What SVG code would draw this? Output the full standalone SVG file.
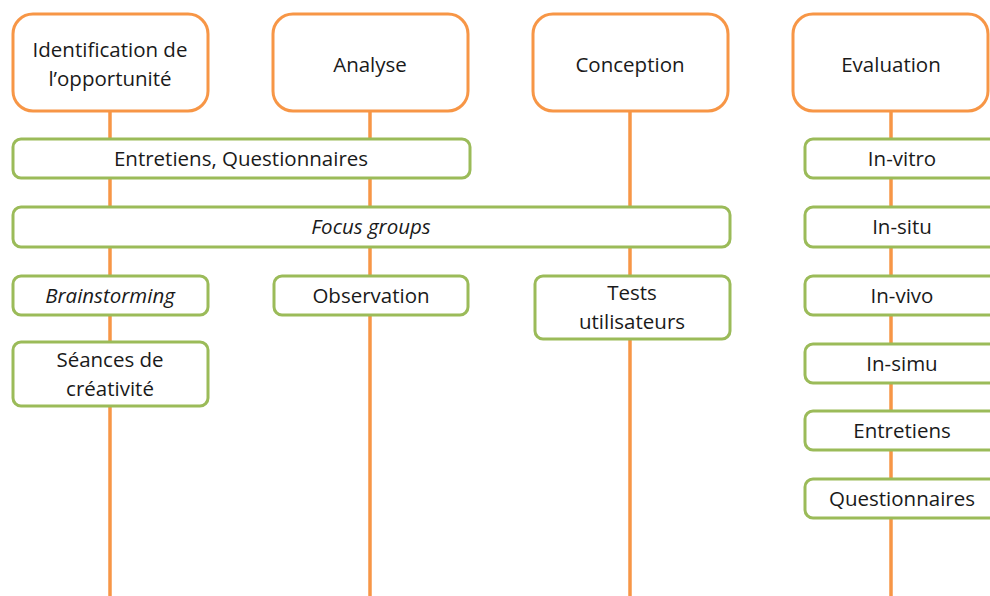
<svg xmlns="http://www.w3.org/2000/svg" width="990" height="596" viewBox="0 0 990 596">
<style>
.phase{fill:#fff;stroke:#F79646;stroke-width:3}
.tool{fill:#fff;stroke:#9BBB59;stroke-width:3}
.line{stroke:#F79646;stroke-width:3.5;fill:none}
text{font-family:"Open Sans","Liberation Sans",Arial,sans-serif;font-size:20.5px;fill:#1a1a1a;text-anchor:middle}
.it{font-style:italic}
</style>
<rect width="990" height="596" fill="#fff"/>
<g id="connectors">
<line class="line" x1="110" y1="111" x2="110" y2="596"/>
<line class="line" x1="370" y1="111" x2="370" y2="596"/>
<line class="line" x1="630" y1="111" x2="630" y2="596"/>
<line class="line" x1="891" y1="111" x2="891" y2="596"/>
</g>
<g id="phase-identification"><rect class="phase" x="13" y="14" width="195" height="97" rx="20"/><text x="110" y="57">Identification de</text><text x="110" y="86">l’opportunité</text></g>
<g id="phase-analyse"><rect class="phase" x="273" y="14" width="195" height="97" rx="20"/><text x="370" y="72">Analyse</text></g>
<g id="phase-conception"><rect class="phase" x="533" y="14" width="195" height="97" rx="20"/><text x="630" y="72">Conception</text></g>
<g id="phase-evaluation"><rect class="phase" x="793" y="14" width="195" height="97" rx="20"/><text x="891" y="72">Evaluation</text></g>
<g id="tool-entretiens-questionnaires"><rect class="tool" x="13" y="139" width="457" height="39" rx="8"/><text x="241" y="166">Entretiens, Questionnaires</text></g>
<g id="tool-focus-groups"><rect class="tool" x="13" y="207" width="717" height="40" rx="8"/><text class="it" x="371" y="234">Focus groups</text></g>
<g id="tool-brainstorming"><rect class="tool" x="13" y="276" width="195" height="39" rx="8"/><text class="it" x="110" y="303">Brainstorming</text></g>
<g id="tool-seances"><rect class="tool" x="13" y="342" width="195" height="64" rx="8"/><text x="110" y="367">Séances de</text><text x="110" y="396">créativité</text></g>
<g id="tool-observation"><rect class="tool" x="274" y="276" width="194" height="39" rx="8"/><text x="371" y="303">Observation</text></g>
<g id="tool-tests"><rect class="tool" x="535" y="276" width="195" height="63" rx="8"/><text x="632" y="300">Tests</text><text x="632" y="329">utilisateurs</text></g>
<g id="tool-in-vitro"><rect class="tool" x="805" y="139" width="196" height="39" rx="8"/><text x="902" y="166">In-vitro</text></g>
<g id="tool-in-situ"><rect class="tool" x="805" y="207" width="196" height="40" rx="8"/><text x="902" y="234">In-situ</text></g>
<g id="tool-in-vivo"><rect class="tool" x="805" y="276" width="196" height="39" rx="8"/><text x="902" y="303">In-vivo</text></g>
<g id="tool-in-simu"><rect class="tool" x="805" y="344" width="196" height="39" rx="8"/><text x="902" y="371">In-simu</text></g>
<g id="tool-entretiens"><rect class="tool" x="805" y="411" width="196" height="39" rx="8"/><text x="902" y="438">Entretiens</text></g>
<g id="tool-questionnaires"><rect class="tool" x="805" y="479" width="196" height="39" rx="8"/><text x="902" y="506">Questionnaires</text></g>
</svg>
